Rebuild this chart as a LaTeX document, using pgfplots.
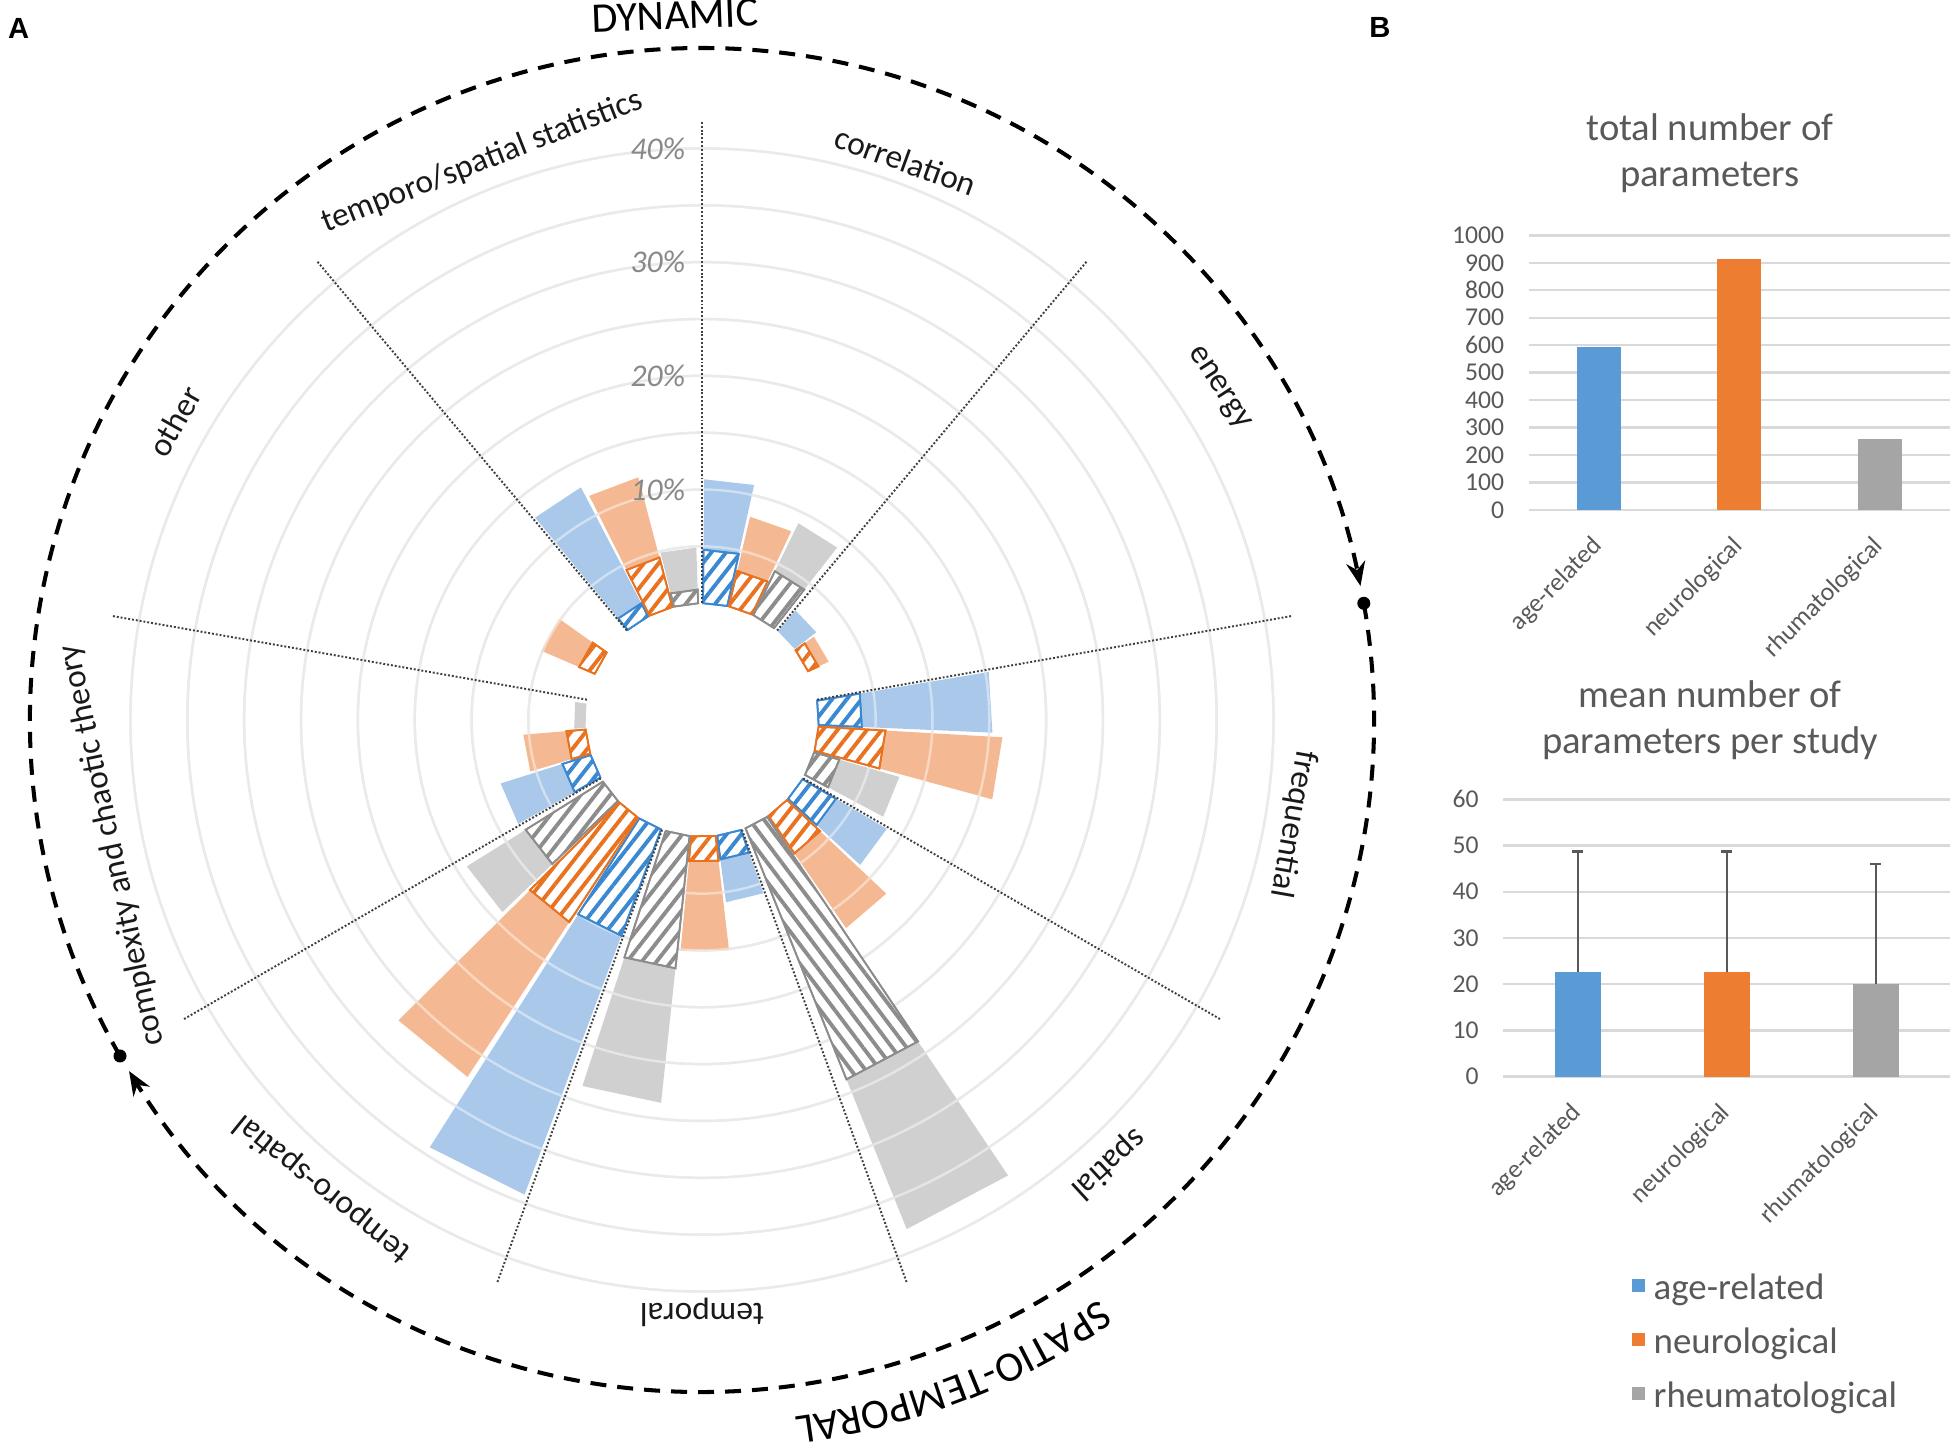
\documentclass[border=0pt]{standalone}
\usepackage{fontspec}
\setmainfont{Carlito}
\newfontfamily\panelfont{Liberation Sans}
\usepackage{pgfplots}
\pgfplotsset{compat=1.18}
\usepackage{pgfplotstable}
\usetikzlibrary{patterns.meta, arrows.meta, decorations.text}

\definecolor{lblue}{HTML}{A9C8EA}
\definecolor{lorange}{HTML}{F4B992}
\definecolor{lgray}{HTML}{D0D0D0}
\definecolor{hblue}{HTML}{3A88D2}
\definecolor{horange}{HTML}{E8721F}
\definecolor{hgray}{HTML}{8C8C8C}
\definecolor{cblue}{HTML}{5B9BD5}
\definecolor{corange}{HTML}{ED7D31}
\definecolor{cgray}{HTML}{A5A5A5}
\definecolor{ctext}{HTML}{595959}
\definecolor{cring}{HTML}{D9D9D9}
\definecolor{cdot}{HTML}{3F3F3F}
\definecolor{cpct}{HTML}{898989}

% share of parameters per category (%): s = sector start angle,
% h = hatched part, t = whole bar, ha = stripe angle
\pgfplotstableread{
s     h     t     ha
90    4.7   10.9  52
50    0     2.4   52
10    3.8   15.3  52
-30   3.4   8.6   52
-70   2.1   5.9   52
-110  10.0  34.3  52
210   2.6   8.3   52
170   0     0     52
130   1.3   12.8  52
}\agerel
\pgfplotstableread{
s     h     t     ha
90    3.2   8.1   52
50    1.0   2.0   52
10    5.9   16.2  52
-30   4.0   12.0  52
-70   2.2   10.1  52
-110  11.0  27.3  52
210   1.7   5.5   52
170   1.5   5.1   52
130   4.5   11.8  52
}\neuro
\pgfplotstableread{
s     h     t     ha
90    4.3   9.0   52
50    0     0     52
10    2.3   7.8   52
-30   23.8  38.0  -53
-70   11.7  23.6  52
-110  8.0   14.1  52
210   0     1.0   52
170   0     0     52
130   1.2   4.9   52
}\rheum

\def\rzero{10.27}

% #1 table, #2 offset of the bar inside its sector (deg), #3 stripe colour,
% #4 light colour, #5 = 1: light bars, 2: hatched parts
\newcommand\polarbars[5]{%
  \pgfplotstablegetrowsof{#1}%
  \pgfmathtruncatemacro\nlast{\pgfplotsretval-1}%
  \pgfplotsforeachungrouped \i in {0,...,\nlast}{%
    \pgfplotstablegetelem{\i}{s}\of#1%
    \pgfmathsetmacro\aA{\pgfplotsretval-#2}%
    \pgfmathsetmacro\aB{\aA-12}%
    \pgfplotstablegetelem{\i}{ha}\of#1\let\hA\pgfplotsretval
    \pgfplotstablegetelem{\i}{t}\of#1\let\vT\pgfplotsretval
    \pgfplotstablegetelem{\i}{h}\of#1\let\vH\pgfplotsretval
    \pgfmathsetmacro\rT{\vT+\rzero}%
    \pgfmathsetmacro\rH{\vH+\rzero}%
    \ifnum#5=1
      \ifdim\vT pt>0pt
        \edef\doit{\noexpand\addplot[data cs=polar, draw=none, fill=#4]
          coordinates {(\aA,\rzero) (\aA,\rT) (\aB,\rT) (\aB,\rzero)} -- cycle;}%
        \doit
      \fi
    \else
      \ifdim\vH pt>0pt
        \edef\doit{\noexpand\addplot[data cs=polar, draw=#3, line width=0.5pt, fill=white,
          postaction={pattern={Lines[angle=\hA, distance=3.3pt, line width=1.1pt]}, pattern color=#3}]
          coordinates {(\aA,\rzero) (\aA,\rH) (\aB,\rH) (\aB,\rzero)} -- cycle;}%
        \doit
      \fi
    \fi
  }%
}

\pgfplotsset{
  barpanel/.style={
    scale only axis, xmin=-0.5, xmax=2.5, ymin=0,
    xtick={0,1,2}, xticklabels={age-related,neurological,rhumatological},
    axis line style={draw=none}, major tick length=0pt,
    ymajorgrids, major grid style={cring, line width=0.7pt},
    tick label style={font=\fontsize{7.3}{8}\selectfont, text=ctext},
    yticklabel style={anchor=east, inner sep=0pt, xshift=-2.4mm},
    xticklabel style={yshift=-3.2mm, rotate=45, anchor=east, inner sep=0pt},
    /pgf/number format/assume math mode=true,
    /pgf/number format/1000 sep={},
    scaled y ticks=false,
    every axis title shift=0pt,
    title style={anchor=center, align=center, font=\fontsize{11}{13.2}\selectfont, text=ctext},
    clip=false,
  },
}

\begin{document}
\begin{tikzpicture}
\path[use as bounding box] (0,0) rectangle (19.5,14.44);
\coordinate (C) at (7.02,7.24);
\coordinate (PT) at (15.288,9.338);
\coordinate (PB) at (15.033,3.673);

% rings every 5 %
\foreach \p in {5,10,...,40}
  \draw[cring, line width=0.7pt] (C) circle[radius={(10.27+\p)*0.1137}];

\begin{axis}[at={(C)}, anchor=center, x=0.1137cm, y=0.1137cm,
    xmin=-60, xmax=60, ymin=-60, ymax=60, hide axis, clip=false]
  \polarbars{\agerel}{0.5}{hblue}{lblue}{1}
  \polarbars{\neuro}{13.3}{horange}{lorange}{1}
  \polarbars{\rheum}{26.1}{hgray}{lgray}{1}
  % faint rings seen through the light bars
  \pgfplotsinvokeforeach{5,10,...,40}{
    \draw[white, opacity=0.45, line width=0.7pt] (axis cs:0,0) circle[radius={(10.27+#1)*0.1137cm}];
  }
  \polarbars{\agerel}{0.5}{hblue}{lblue}{2}
  \polarbars{\neuro}{13.3}{horange}{lorange}{2}
  \polarbars{\rheum}{26.1}{hgray}{lgray}{2}
\end{axis}

% sector borders
\foreach \a in {10,50,...,330}
  \draw[cdot, line width=0.55pt, dash pattern=on 0.55pt off 0.55pt]
    ([shift={(\a:1.168)}]C) -- ([shift={(\a:6.0)}]C);

% ring labels
\foreach \p in {10,20,30,40}{
  \pgfmathsetmacro\rr{(10.27+\p)*0.1137}
  \node[anchor=east, inner sep=0pt, xshift=-1.6mm, text=cpct,
        font=\fontsize{9}{10}\selectfont\itshape] at ([shift={(90:\rr)}]C) {\p\%};
}

% category labels
\begin{scope}[every node/.style={font=\fontsize{9.5}{11}\selectfont, text=black!90}]
  \node[rotate=-20]  at ([shift={(70:5.95)}]C)  {correlation};
  \node[rotate=-57]  at ([shift={(32.7:6.14)}]C)  {energy};
  \node[rotate=-100] at ([shift={(-10:6.0)}]C) {frequential};
  \node[rotate=-137.5] at ([shift={(-47.5:6.02)}]C) {spatial};
  \node[rotate=-180] at ([shift={(-90:5.92)}]C) {temporal};
  \node[rotate=-219] at ([shift={(-129:6.03)}]C) {temporo-spatial};
  \node[rotate=102]  at ([shift={(192:6.03)}]C) {complexity and chaotic theory};
  \node[rotate=60.5] at ([shift={(150.5:6.06)}]C) {other};
  \node[rotate=21.5] at ([shift={(111.5:6.0)}]C) {temporo/spatial statistics};
\end{scope}

% outer arrows
\begin{scope}[line width=1.15pt, dash pattern=on 1.6mm off 1.1mm]
  \draw[-{Stealth[length=2.4mm, width=1.9mm]}] ([shift={(210:6.72)}]C) arc[start angle=210, end angle=11.5, radius=6.72];
  \draw[-{Stealth[length=2.4mm, width=1.9mm]}] ([shift={(10:6.72)}]C) arc[start angle=10, end angle=-148.5, radius=6.72];
\end{scope}
\fill ([shift={(10:6.72)}]C) circle[radius=0.65mm];
\fill ([shift={(210:6.72)}]C) circle[radius=0.65mm];

\node[rotate=2.2, font=\fontsize{12}{14}\selectfont] at ([shift={(92.2:7.05)}]C) {DYNAMIC};
\path[decorate, decoration={text along path, text align=center,
      text={|\fontsize{12}{14}\selectfont|SPATIO-TEMPORAL}}]
  ([shift={(-50:7.03)}]C) arc[start angle=-50, end angle=-88, radius=7.03];

\node[font=\panelfont\bfseries\fontsize{8.3}{10}\selectfont] at (0.187,14.152) {A};
\node[font=\panelfont\bfseries\fontsize{8.3}{10}\selectfont] at (13.80,14.166) {B};

% B: total number of parameters
\begin{axis}[barpanel, at={(PT)}, anchor=south west,
    width=4.212cm, height=2.749cm, ymax=1000, ytick={0,100,...,1000},
    bar width=4.4mm,
    title={total number of\\parameters},
    title style={at={(axis description cs:0.43,1.299)}}]
  \addplot[ybar, bar shift=0pt, fill=cblue, draw=none] coordinates {(0,593)};
  \addplot[ybar, bar shift=0pt, fill=corange, draw=none] coordinates {(1,915)};
  \addplot[ybar, bar shift=0pt, fill=cgray, draw=none] coordinates {(2,260)};
\end{axis}

% B: mean number of parameters per study
\begin{axis}[barpanel, at={(PB)}, anchor=south west,
    width=4.467cm, height=2.774cm, ymax=60, ytick={0,10,...,60},
    bar width=4.6mm,
    title={mean number of\\parameters per study},
    title style={at={(axis description cs:0.463,1.286)}},
    legend cell align=left,
    legend style={at={(axis description cs:0.286,-0.706)}, anchor=north west,
      draw=none, fill=none, inner sep=0pt, row sep=2.0mm,
      font=\fontsize{10.5}{12}\selectfont, text=ctext,
      nodes={inner sep=0pt, text height=2.6mm, text depth=0.8mm}}]
  \addlegendimage{legend image code/.code={\fill[cblue] (0mm,-0.15mm) rectangle (1.2mm,1.05mm); \path (2.05mm,0);}}
  \addlegendimage{legend image code/.code={\fill[corange] (0mm,-0.15mm) rectangle (1.2mm,1.05mm); \path (2.05mm,0);}}
  \addlegendimage{legend image code/.code={\fill[cgray] (0mm,-0.15mm) rectangle (1.2mm,1.05mm); \path (2.05mm,0);}}
  \legend{age-related,neurological,rheumatological}
  \pgfplotsset{errstyle/.style={error bars/.cd, y dir=plus, y explicit,
      error bar style={ctext, line width=0.6pt},
      error mark options={rotate=90, mark size=0.55mm, line width=0.6pt, ctext}}}
  \addplot[ybar, bar shift=0pt, fill=cblue, draw=none, errstyle] coordinates {(0,22.6) +- (0,26.1)};
  \addplot[ybar, bar shift=0pt, fill=corange, draw=none, errstyle] coordinates {(1,22.6) +- (0,26.1)};
  \addplot[ybar, bar shift=0pt, fill=cgray, draw=none, errstyle] coordinates {(2,20.1) +- (0,25.9)};
\end{axis}
\end{tikzpicture}
\end{document}
